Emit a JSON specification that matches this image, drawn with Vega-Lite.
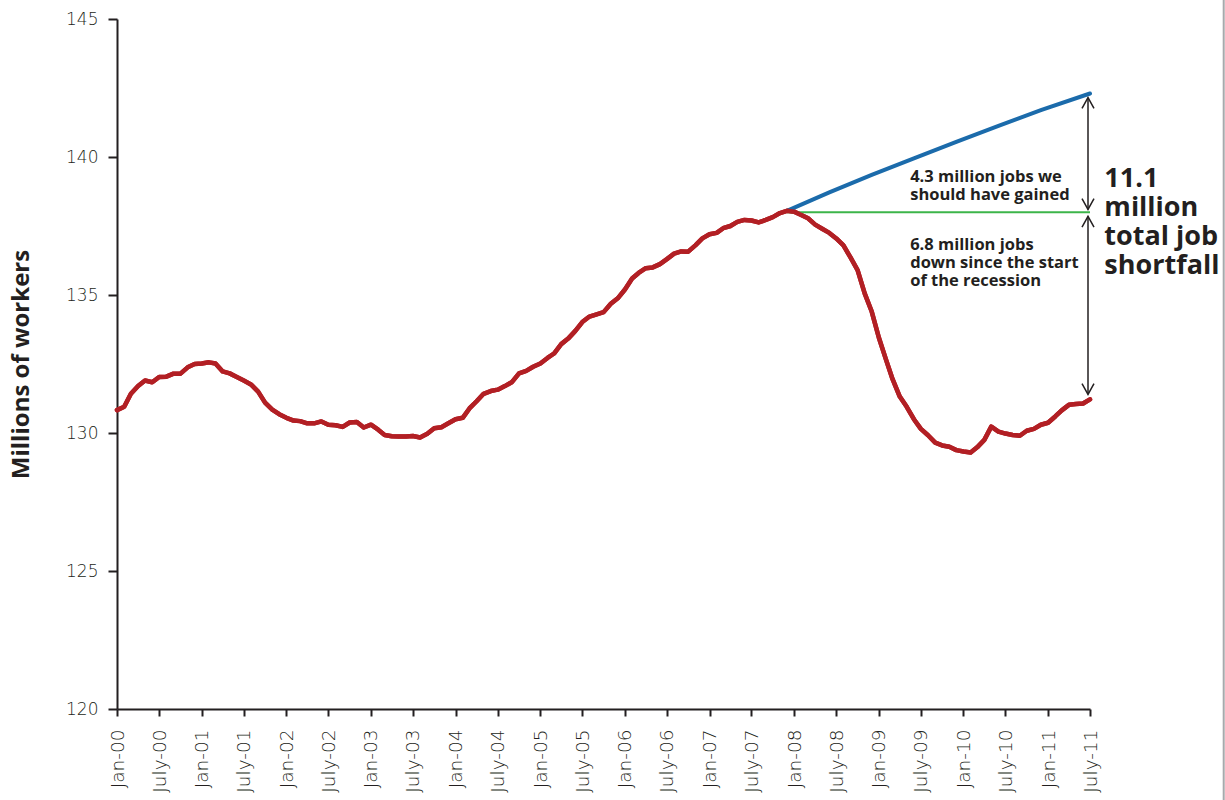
{
  "$schema": "https://vega.github.io/schema/vega-lite/v6.json",
  "width": 973,
  "height": 690,
  "autosize": {"type": "none"},
  "padding": {"left": 117, "top": 19, "right": 135, "bottom": 91},
  "background": "white",
  "config": {
    "view": {"stroke": null},
    "axis": {
      "grid": false,
      "domainColor": "#231f20",
      "domainWidth": 2,
      "tickColor": "#231f20",
      "tickWidth": 2,
      "tickSize": 8,
      "labelFont": "DejaVu Sans",
      "labelFontWeight": 200,
      "labelFontSize": 17,
      "labelColor": "#231f20",
      "titleFont": "Open Sans",
      "titleFontWeight": "bold",
      "titleColor": "#231f20"
    }
  },
  "datasets": {
    "actual": [
      {"date": "2000-01-01", "jobs": 130.83}, {"date": "2000-02-01", "jobs": 130.95}, {"date": "2000-03-01", "jobs": 131.42}, {"date": "2000-04-01", "jobs": 131.7},
      {"date": "2000-05-01", "jobs": 131.9}, {"date": "2000-06-01", "jobs": 131.84}, {"date": "2000-07-01", "jobs": 132.03}, {"date": "2000-08-01", "jobs": 132.04},
      {"date": "2000-09-01", "jobs": 132.15}, {"date": "2000-10-01", "jobs": 132.15}, {"date": "2000-11-01", "jobs": 132.38}, {"date": "2000-12-01", "jobs": 132.5},
      {"date": "2001-01-01", "jobs": 132.52}, {"date": "2001-02-01", "jobs": 132.56}, {"date": "2001-03-01", "jobs": 132.52}, {"date": "2001-04-01", "jobs": 132.23},
      {"date": "2001-05-01", "jobs": 132.16}, {"date": "2001-06-01", "jobs": 132.03}, {"date": "2001-07-01", "jobs": 131.9}, {"date": "2001-08-01", "jobs": 131.76},
      {"date": "2001-09-01", "jobs": 131.5}, {"date": "2001-10-01", "jobs": 131.1}, {"date": "2001-11-01", "jobs": 130.85}, {"date": "2001-12-01", "jobs": 130.68},
      {"date": "2002-01-01", "jobs": 130.55}, {"date": "2002-02-01", "jobs": 130.45}, {"date": "2002-03-01", "jobs": 130.43}, {"date": "2002-04-01", "jobs": 130.35},
      {"date": "2002-05-01", "jobs": 130.35}, {"date": "2002-06-01", "jobs": 130.42}, {"date": "2002-07-01", "jobs": 130.3}, {"date": "2002-08-01", "jobs": 130.28},
      {"date": "2002-09-01", "jobs": 130.22}, {"date": "2002-10-01", "jobs": 130.38}, {"date": "2002-11-01", "jobs": 130.4}, {"date": "2002-12-01", "jobs": 130.2},
      {"date": "2003-01-01", "jobs": 130.3}, {"date": "2003-02-01", "jobs": 130.12}, {"date": "2003-03-01", "jobs": 129.93}, {"date": "2003-04-01", "jobs": 129.88},
      {"date": "2003-05-01", "jobs": 129.87}, {"date": "2003-06-01", "jobs": 129.87}, {"date": "2003-07-01", "jobs": 129.89}, {"date": "2003-08-01", "jobs": 129.84},
      {"date": "2003-09-01", "jobs": 129.97}, {"date": "2003-10-01", "jobs": 130.17}, {"date": "2003-11-01", "jobs": 130.21}, {"date": "2003-12-01", "jobs": 130.35},
      {"date": "2004-01-01", "jobs": 130.5}, {"date": "2004-02-01", "jobs": 130.55}, {"date": "2004-03-01", "jobs": 130.89}, {"date": "2004-04-01", "jobs": 131.15},
      {"date": "2004-05-01", "jobs": 131.42}, {"date": "2004-06-01", "jobs": 131.52}, {"date": "2004-07-01", "jobs": 131.57}, {"date": "2004-08-01", "jobs": 131.7},
      {"date": "2004-09-01", "jobs": 131.85}, {"date": "2004-10-01", "jobs": 132.16}, {"date": "2004-11-01", "jobs": 132.25}, {"date": "2004-12-01", "jobs": 132.4},
      {"date": "2005-01-01", "jobs": 132.52}, {"date": "2005-02-01", "jobs": 132.72}, {"date": "2005-03-01", "jobs": 132.88}, {"date": "2005-04-01", "jobs": 133.22},
      {"date": "2005-05-01", "jobs": 133.42}, {"date": "2005-06-01", "jobs": 133.7}, {"date": "2005-07-01", "jobs": 134.02}, {"date": "2005-08-01", "jobs": 134.22},
      {"date": "2005-09-01", "jobs": 134.3}, {"date": "2005-10-01", "jobs": 134.38}, {"date": "2005-11-01", "jobs": 134.68}, {"date": "2005-12-01", "jobs": 134.88},
      {"date": "2006-01-01", "jobs": 135.2}, {"date": "2006-02-01", "jobs": 135.6}, {"date": "2006-03-01", "jobs": 135.8}, {"date": "2006-04-01", "jobs": 135.97},
      {"date": "2006-05-01", "jobs": 136.0}, {"date": "2006-06-01", "jobs": 136.12}, {"date": "2006-07-01", "jobs": 136.3}, {"date": "2006-08-01", "jobs": 136.5},
      {"date": "2006-09-01", "jobs": 136.58}, {"date": "2006-10-01", "jobs": 136.57}, {"date": "2006-11-01", "jobs": 136.8}, {"date": "2006-12-01", "jobs": 137.05},
      {"date": "2007-01-01", "jobs": 137.2}, {"date": "2007-02-01", "jobs": 137.25}, {"date": "2007-03-01", "jobs": 137.42}, {"date": "2007-04-01", "jobs": 137.5},
      {"date": "2007-05-01", "jobs": 137.65}, {"date": "2007-06-01", "jobs": 137.72}, {"date": "2007-07-01", "jobs": 137.7}, {"date": "2007-08-01", "jobs": 137.63},
      {"date": "2007-09-01", "jobs": 137.72}, {"date": "2007-10-01", "jobs": 137.82}, {"date": "2007-11-01", "jobs": 137.97}, {"date": "2007-12-01", "jobs": 138.05},
      {"date": "2008-01-01", "jobs": 138.02}, {"date": "2008-02-01", "jobs": 137.9}, {"date": "2008-03-01", "jobs": 137.78}, {"date": "2008-04-01", "jobs": 137.55},
      {"date": "2008-05-01", "jobs": 137.4}, {"date": "2008-06-01", "jobs": 137.25}, {"date": "2008-07-01", "jobs": 137.05}, {"date": "2008-08-01", "jobs": 136.8},
      {"date": "2008-09-01", "jobs": 136.35}, {"date": "2008-10-01", "jobs": 135.9}, {"date": "2008-11-01", "jobs": 135.05}, {"date": "2008-12-01", "jobs": 134.4},
      {"date": "2009-01-01", "jobs": 133.45}, {"date": "2009-02-01", "jobs": 132.65}, {"date": "2009-03-01", "jobs": 131.95}, {"date": "2009-04-01", "jobs": 131.32},
      {"date": "2009-05-01", "jobs": 130.95}, {"date": "2009-06-01", "jobs": 130.5}, {"date": "2009-07-01", "jobs": 130.15}, {"date": "2009-08-01", "jobs": 129.92},
      {"date": "2009-09-01", "jobs": 129.65}, {"date": "2009-10-01", "jobs": 129.55}, {"date": "2009-11-01", "jobs": 129.5}, {"date": "2009-12-01", "jobs": 129.38},
      {"date": "2010-01-01", "jobs": 129.33}, {"date": "2010-02-01", "jobs": 129.29}, {"date": "2010-03-01", "jobs": 129.48}, {"date": "2010-04-01", "jobs": 129.75},
      {"date": "2010-05-01", "jobs": 130.23}, {"date": "2010-06-01", "jobs": 130.05}, {"date": "2010-07-01", "jobs": 129.98}, {"date": "2010-08-01", "jobs": 129.93},
      {"date": "2010-09-01", "jobs": 129.9}, {"date": "2010-10-01", "jobs": 130.08}, {"date": "2010-11-01", "jobs": 130.15}, {"date": "2010-12-01", "jobs": 130.3},
      {"date": "2011-01-01", "jobs": 130.37}, {"date": "2011-02-01", "jobs": 130.6}, {"date": "2011-03-01", "jobs": 130.82}, {"date": "2011-04-01", "jobs": 131.02},
      {"date": "2011-05-01", "jobs": 131.05}, {"date": "2011-06-01", "jobs": 131.07}, {"date": "2011-07-01", "jobs": 131.22}
    ],
    "trend": [
      {"date": "2007-12-01", "jobs": 138.05}, {"date": "2008-06-01", "jobs": 138.72}, {"date": "2008-12-01", "jobs": 139.35},
      {"date": "2009-06-01", "jobs": 139.95}, {"date": "2009-12-01", "jobs": 140.55}, {"date": "2010-06-01", "jobs": 141.13},
      {"date": "2010-12-01", "jobs": 141.7}, {"date": "2011-07-01", "jobs": 142.3}
    ],
    "level": [{"date": "2007-12-01", "end": "2011-07-01", "jobs": 138.0}],
    "gaps": [
      {"date": "2011-07-01", "jobs": 142.15, "to": 138.1},
      {"date": "2011-07-01", "jobs": 137.85, "to": 131.4}
    ],
    "heads": [
      {"date": "2011-07-01", "jobs": 142.15, "direction": "up"},
      {"date": "2011-07-01", "jobs": 138.1, "direction": "down"},
      {"date": "2011-07-01", "jobs": 137.85, "direction": "up"},
      {"date": "2011-07-01", "jobs": 131.4, "direction": "down"}
    ],
    "notes": [
      {"date": "2009-05-16", "jobs": 139.1, "label": "4.3 million jobs we\nshould have gained"},
      {"date": "2009-05-16", "jobs": 136.63, "label": "6.8 million jobs\ndown since the start\nof the recession"}
    ],
    "total": [
      {"date": "2011-09-01", "jobs": 138.91, "label": "11.1\nmillion\ntotal job\nshortfall"}
    ],
    "frame": [
      {"date": "2013-01-28", "jobs": 145.7, "end": 116.7}
    ]
  },
  "layer": [
    {
      "data": {"name": "actual"},
      "mark": {"type": "line", "color": "#b21f24", "strokeWidth": 4.5, "strokeJoin": "round", "strokeCap": "round"},
      "encoding": {
        "x": {
          "field": "date", "type": "temporal", "title": null,
          "scale": {"type": "utc", "domain": [{"year": 2000, "month": 1, "date": 1, "utc": true}, {"year": 2011, "month": 7, "date": 1, "utc": true}], "nice": false},
          "axis": {
            "title": null,
            "tickCount": {"interval": "month", "step": 6},
            "labelExpr": "(utcmonth(datum.value) == 0 ? 'Jan-' : 'July-') + utcFormat(datum.value, '%y')",
            "labelAngle": -90,
            "labelAlign": "right",
            "labelBaseline": "middle",
            "labelFontSize": 18.5,
            "labelPadding": 13,
            "labelFlush": false,
            "labelOverlap": false,
            "labelBound": false,
            "tickSize": 7
          }
        },
        "y": {
          "field": "jobs", "type": "quantitative", "title": "Millions of workers",
          "scale": {"domain": [120, 145], "nice": false, "zero": false},
          "axis": {
            "title": "Millions of workers",
            "titleFontSize": 24,
            "titlePadding": 32,
            "values": [120, 125, 130, 135, 140, 145],
            "tickSize": 9,
            "labelPadding": 10
          }
        }
      }
    },
    {
      "data": {"name": "level"},
      "mark": {"type": "rule", "color": "#3cb54a", "strokeWidth": 2},
      "encoding": {
        "x": {"field": "date", "type": "temporal", "title": null},
        "x2": {"field": "end"},
        "y": {"field": "jobs", "type": "quantitative", "title": "Millions of workers"}
      }
    },
    {
      "data": {"name": "trend"},
      "mark": {"type": "line", "color": "#1b6bab", "strokeWidth": 4, "strokeCap": "round"},
      "encoding": {
        "x": {"field": "date", "type": "temporal", "title": null},
        "y": {"field": "jobs", "type": "quantitative", "title": "Millions of workers"}
      }
    },
    {
      "data": {"name": "actual"},
      "mark": {"type": "line", "color": "#b21f24", "strokeWidth": 4.5, "strokeJoin": "round", "strokeCap": "round"},
      "encoding": {
        "x": {"field": "date", "type": "temporal", "title": null},
        "y": {"field": "jobs", "type": "quantitative", "title": "Millions of workers"}
      }
    },
    {
      "data": {"name": "gaps"},
      "mark": {"type": "rule", "color": "#231f20", "strokeWidth": 1.5, "xOffset": -2},
      "encoding": {
        "x": {"field": "date", "type": "temporal", "title": null},
        "y": {"field": "jobs", "type": "quantitative", "title": "Millions of workers"},
        "y2": {"field": "to"}
      }
    },
    {
      "data": {"name": "heads"},
      "mark": {"type": "point", "filled": false, "stroke": "#231f20", "strokeWidth": 1.5, "opacity": 1, "size": 144, "xOffset": -2},
      "encoding": {
        "x": {"field": "date", "type": "temporal", "title": null},
        "y": {"field": "jobs", "type": "quantitative", "title": "Millions of workers"},
        "shape": {
          "field": "direction", "type": "nominal", "legend": null,
          "scale": {"domain": ["up", "down"], "range": ["M-1,1.8L0,0L1,1.8", "M-1,-1.8L0,0L1,-1.8"]}
        }
      }
    },
    {
      "data": {"name": "notes"},
      "mark": {"type": "text", "align": "left", "baseline": "alphabetic", "lineBreak": "\n", "lineHeight": 18, "font": "Open Sans", "fontWeight": "bold", "fontSize": 16.5, "color": "#231f20"},
      "encoding": {
        "x": {"field": "date", "type": "temporal", "title": null},
        "y": {"field": "jobs", "type": "quantitative", "title": "Millions of workers"},
        "text": {"field": "label"}
      }
    },
    {
      "data": {"name": "total"},
      "mark": {"type": "text", "align": "left", "baseline": "alphabetic", "lineBreak": "\n", "lineHeight": 29, "font": "Open Sans", "fontWeight": "bold", "fontSize": 27, "color": "#231f20"},
      "encoding": {
        "x": {"field": "date", "type": "temporal", "title": null},
        "y": {"field": "jobs", "type": "quantitative", "title": "Millions of workers"},
        "text": {"field": "label"}
      }
    },
    {
      "data": {"name": "frame"},
      "mark": {"type": "rule", "color": "#a7a9ac", "strokeWidth": 2},
      "encoding": {
        "x": {"field": "date", "type": "temporal", "title": null},
        "y": {"field": "jobs", "type": "quantitative", "title": "Millions of workers"},
        "y2": {"field": "end"}
      }
    }
  ]
}
